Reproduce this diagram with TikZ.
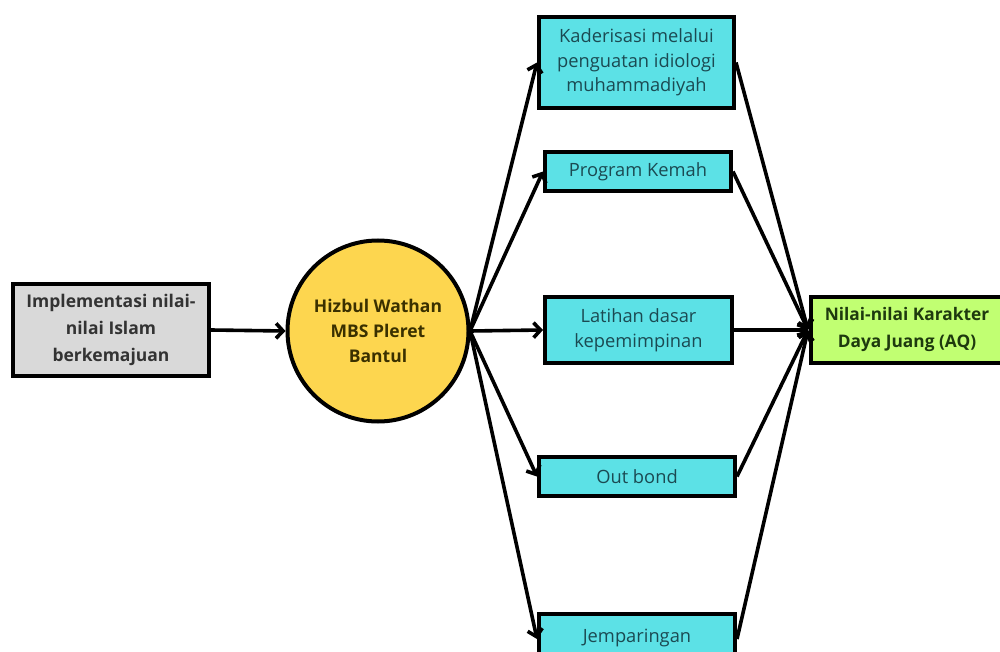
\documentclass[tikz,border=0pt]{standalone}
\usepackage{fontspec}
\setmainfont{Open Sans}
\usetikzlibrary{arrows.meta}
\definecolor{boxgray}{HTML}{D9D9D9}
\definecolor{hwyellow}{HTML}{FDD64F}
\definecolor{progcyan}{HTML}{5CE1E6}
\definecolor{aqgreen}{HTML}{C1FF72}
\definecolor{tealtext}{HTML}{1B4A52}
\definecolor{graytext}{HTML}{333333}
\definecolor{browntext}{HTML}{3A3000}
\definecolor{greentext}{HTML}{1E3A0E}
\tikzset{
  basebox/.style={draw=black, line width=4pt, inner sep=0pt, align=center},
  srcbox/.style={basebox, fill=boxgray, text=graytext, font=\fontsize{17.5}{27}\selectfont\bfseries},
  hwcircle/.style={basebox, circle, fill=hwyellow, text=browntext, minimum size=181pt, font=\fontsize{17.5}{25}\selectfont\bfseries},
  progbox/.style={basebox, fill=progcyan, text=tealtext, font=\fontsize{18.3}{24.5}\selectfont},
  aqbox/.style={basebox, fill=aqgreen, text=greentext, font=\fontsize{17.3}{27}\selectfont\bfseries},
  flow/.style={line width=3.6pt, -{Straight Barb[length=7pt,width=15pt]}}
}
\begin{document}
\begin{tikzpicture}[x=1pt,y=-1pt]
\useasboundingbox (0,0) rectangle (1000,652);
\fill[white] (0,0) rectangle (1000,652);
\begin{scope}
\clip (0,0) rectangle (1000,652);
\node[srcbox, minimum width=196pt, minimum height=92pt] (src) at (111,330) {Implementasi nilai-\\nilai Islam\\berkemajuan};
\node[hwcircle] (hw) at (378,331) {Hizbul Wathan\\MBS Pleret\\Bantul};
\node[progbox, minimum width=195pt, minimum height=91pt] (k1) at (636.5,62.5) {Kaderisasi melalui\\penguatan idiologi\\muhammadiyah};
\node[progbox, minimum width=186pt, minimum height=39pt] (k2) at (638,171.5) {Program Kemah};
\node[progbox, minimum width=187pt, minimum height=66pt] (k3) at (638.5,330) {Latihan dasar\\kepemimpinan};
\node[progbox, minimum width=196pt, minimum height=39pt] (k4) at (637,476.5) {Out bond};
\node[progbox, minimum width=196pt, minimum height=44pt, text depth=0pt] (k5) at (637,636) {Jemparingan};
\node[aqbox, minimum width=193pt, minimum height=66pt] (aq) at (907,330) {Nilai-nilai Karakter\\Daya Juang (AQ)};
\coordinate (hwout) at (470,331);
\coordinate (aqin) at (808,330);
\draw[flow] (src.east) -- (hw.west);
\draw[flow] (hwout) -- (k1.west);
\draw[flow] (hwout) -- (k2.west);
\draw[flow] (hwout) -- (k3.west);
\draw[flow] (hwout) -- (k4.west);
\draw[flow] (hwout) -- ([yshift=-3pt]k5.west);
\draw[flow] (k1.east) -- (aqin);
\draw[flow] (k2.east) -- (aqin);
\draw[flow] (k3.east) -- (aqin);
\draw[flow] (k4.east) -- (aqin);
\draw[flow] ([yshift=-3pt]k5.east) -- (aqin);
\end{scope}
\end{tikzpicture}
\end{document}
